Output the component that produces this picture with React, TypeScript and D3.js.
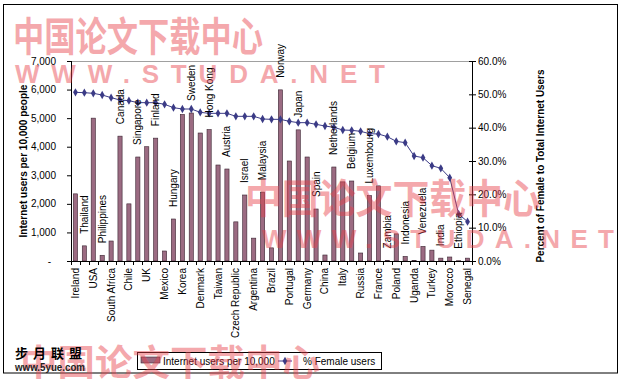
import React from "react";
import * as d3 from "d3";

const countries = [
  "Ireland", "Thailand", "USA", "Philippines", "South Africa", "Canada", "Chile", "Singapore", "UK", "Finland",
  "Mexico", "Hungary", "Korea", "Sweden", "Denmark", "Hong Kong", "Taiwan", "Austria", "Czech Republic", "Israel",
  "Argentina", "Malaysia", "Brazil", "Norway", "Portugal", "Japan", "Germany", "Spain", "China", "Netherlands",
  "Italy", "Belgium", "Russia", "Luxembourg", "France", "Zambia", "Poland", "Indonesia", "Uganda", "Venezuela",
  "Turkey", "India", "Morocco", "Ethiopia", "Senegal",
];

const internetUsers = [
  2350, 530, 5000, 200, 700, 4370, 2000, 3640, 4000, 4300,
  350, 1470, 5130, 5180, 4480, 4600, 3360, 3220, 1370, 2310,
  800, 2410, 460, 5990, 3500, 4590, 3640, 1820, 210, 3290,
  2770, 2800, 280, 2290, 2630, 20, 950, 160, 20, 510,
  380, 100, 140, 10, 100,
];

const femaleShare = [
  50.6, 50.5, 50.3, 49.8, 49.0, 48.3, 48.1, 47.5, 47.5, 47.5,
  47.0, 46.0, 45.6, 45.6, 44.6, 44.3, 44.3, 44.3, 43.4, 43.4,
  43.4, 42.6, 42.5, 42.5, 41.9, 41.5, 41.5, 41.0, 40.5, 40.1,
  39.3, 39.2, 38.9, 38.2, 38.1, 37.3, 35.9, 35.5, 31.5, 31.0,
  28.6, 27.8, 25.0, 14.1, 11.8,
];

const leftTicks = [0, 1000, 2000, 3000, 4000, 5000, 6000, 7000];
const rightTicks = [0, 10, 20, 30, 40, 50, 60];

const leftTitle = "Internet users per 10,000 people";
const rightTitle = "Percent of Female to Total Internet Users";
const legendBars = "Internet users per 10,000";
const legendLine = "% Female users";

const FONT = "'Liberation Sans', Arial, sans-serif";
const CJK = "'Noto Sans CJK SC', sans-serif";

export default function App() {
  const W = 620, H = 379;
  const left = 71, right = 472, top = 61, bottom = 261;

  const x = d3.scaleBand<string>().domain(countries).range([left, right]).paddingInner(0.53).paddingOuter(0.265);
  const step = x.step();
  const cx = (c: string) => (x(c) as number) + x.bandwidth() / 2;
  const yL = d3.scaleLinear().domain([0, 7000]).range([bottom, top]);
  const yR = d3.scaleLinear().domain([0, 60]).range([bottom, top]);

  const line = d3.line<number>()
    .x((_, i) => cx(countries[i]))
    .y((d) => yR(d));
  const diamond = d3.symbol(d3.symbolDiamond, 20)() as string;

  const lineColor = "#3b3b86";
  const barFill = "#9b6b82";
  const barStroke = "#3a2431";

  const fmtL = (v: number) => (v === 0 ? "-" : d3.format(",")(v));
  const fmtR = (v: number) => d3.format(".1f")(v) + "%";

  return (
    <svg width={W} height={H} style={{ position: "absolute", left: 0, top: 0, background: "#fff" }} fontFamily={FONT}>
      <rect x={0} y={0} width={W} height={H} fill="#fff" />
      <rect x={3.5} y={4.5} width={614} height={368.5} fill="#fff" stroke="#000" strokeWidth={1} />

      {/* plot area */}
      <line x1={left} x2={right} y1={top + 0.5} y2={top + 0.5} stroke="#a0a0a0" strokeWidth={1} />

      {/* bars */}
      {countries.map((c, i) => (
        <rect key={c} x={x(c)} y={yL(internetUsers[i])} width={x.bandwidth()}
          height={bottom - yL(internetUsers[i])} fill={barFill} stroke={barStroke} strokeWidth={0.6} />
      ))}

      {/* line series */}
      <path d={line(femaleShare) as string} fill="none" stroke={lineColor} strokeWidth={1} />
      {femaleShare.map((v, i) => (
        <path key={i} d={diamond} transform={`translate(${cx(countries[i])},${yR(v)})`} fill={lineColor} />
      ))}

      {/* left axis */}
      <line x1={left + 0.5} x2={left + 0.5} y1={top} y2={bottom} stroke="#000" />
      {leftTicks.map((t) => (
        <g key={t}>
          <line x1={left - 4} x2={left} y1={yL(t) + 0.5} y2={yL(t) + 0.5} stroke="#000" />
          <text x={t === 0 ? 51 : 56} y={yL(t)} dy="0.35em" textAnchor="end" fontSize={10} fill="#000">{fmtL(t)}</text>
        </g>
      ))}

      {/* right axis */}
      <line x1={right + 0.5} x2={right + 0.5} y1={top} y2={bottom} stroke="#000" />
      {rightTicks.map((t) => (
        <g key={t}>
          <line x1={right - 3} x2={right + 4} y1={yR(t) + 0.5} y2={yR(t) + 0.5} stroke="#000" />
          <text x={478} y={yR(t)} dy="0.35em" textAnchor="start" fontSize={10} fill="#000">{fmtR(t)}</text>
        </g>
      ))}

      {/* x axis */}
      <line x1={left} x2={right + 1} y1={bottom + 0.5} y2={bottom + 0.5} stroke="#000" />
      {d3.range(countries.length + 1).map((i) => (
        <line key={i} x1={Math.round(left + i * step) + 0.5} x2={Math.round(left + i * step) + 0.5}
          y1={bottom} y2={bottom + 4} stroke="#000" />
      ))}

      {/* category labels */}
      {countries.map((c, i) =>
        i % 2 === 0 ? (
          <text key={c} transform={`translate(${cx(c)},${bottom + 7}) rotate(-90)`} dy="0.35em"
            textAnchor="end" fontSize={10} fill="#000">{c}</text>
        ) : (
          <text key={c} transform={`translate(${cx(c)},${yL(internetUsers[i]) - 12}) rotate(-90)`} dy="0.35em"
            textAnchor="start" fontSize={10} fill="#000">{c}</text>
        )
      )}

      {/* axis titles */}
      <text transform={`translate(23,${(top + bottom) / 2}) rotate(-90)`} dy="0.35em" textAnchor="middle"
        fontSize={10} fontWeight="bold" fill="#000">{leftTitle}</text>
      <text transform={`translate(540,${(top + bottom) / 2 + 5}) rotate(-90)`} dy="0.35em" textAnchor="middle"
        fontSize={10} fontWeight="bold" fill="#000" textLength={193} lengthAdjust="spacingAndGlyphs">{rightTitle}</text>

      {/* legend */}
      <rect x={137.5} y={352.5} width={244} height={17} fill="#fff" stroke="#000" strokeWidth={1} />
      <rect x={141} y={357} width={19} height={6} fill={barFill} stroke={barStroke} strokeWidth={0.6} />
      <text x={163} y={361} dy="0.35em" fontSize={10} fill="#000">{legendBars}</text>
      <line x1={278} x2={292} y1={361} y2={361} stroke={lineColor} />
      <path d={diamond} transform="translate(285,361)" fill={lineColor} />
      <text x={303} y={361} dy="0.35em" fontSize={10} fill="#000">{legendLine}</text>

      {/* watermarks */}
      <g fill="#e8404a" opacity={0.45} fontWeight="bold">
        <text x={13} y={51} fontFamily={CJK} fontSize={40} textLength={250} lengthAdjust="spacingAndGlyphs">中国论文下载中心</text>
        <text x={15} y={83} fontFamily={FONT} fontSize={26} textLength={370} lengthAdjust="spacing">WWW.STUDA.NET</text>
        <text x={245} y={213} fontFamily={CJK} fontSize={40} textLength={295} lengthAdjust="spacingAndGlyphs">中国论文下载中心</text>
        <text x={262} y={248} fontFamily={FONT} fontSize={26} textLength={352} lengthAdjust="spacing">WWW.STUDA.NET</text>
        <text x={20} y={376} fontFamily={CJK} fontSize={36} textLength={300} lengthAdjust="spacingAndGlyphs">中国论文下载中心</text>
      </g>

      <text x={15} y={358} fontFamily={CJK} fontSize={13} fontWeight="bold" fill="#000" textLength={67} lengthAdjust="spacing">步月联盟</text>
      <text x={15} y={371} fontFamily={FONT} fontSize={10} fontWeight="bold" fill="#222" textLength={70} lengthAdjust="spacingAndGlyphs">www.5yue.com</text>
    </svg>
  );
}
